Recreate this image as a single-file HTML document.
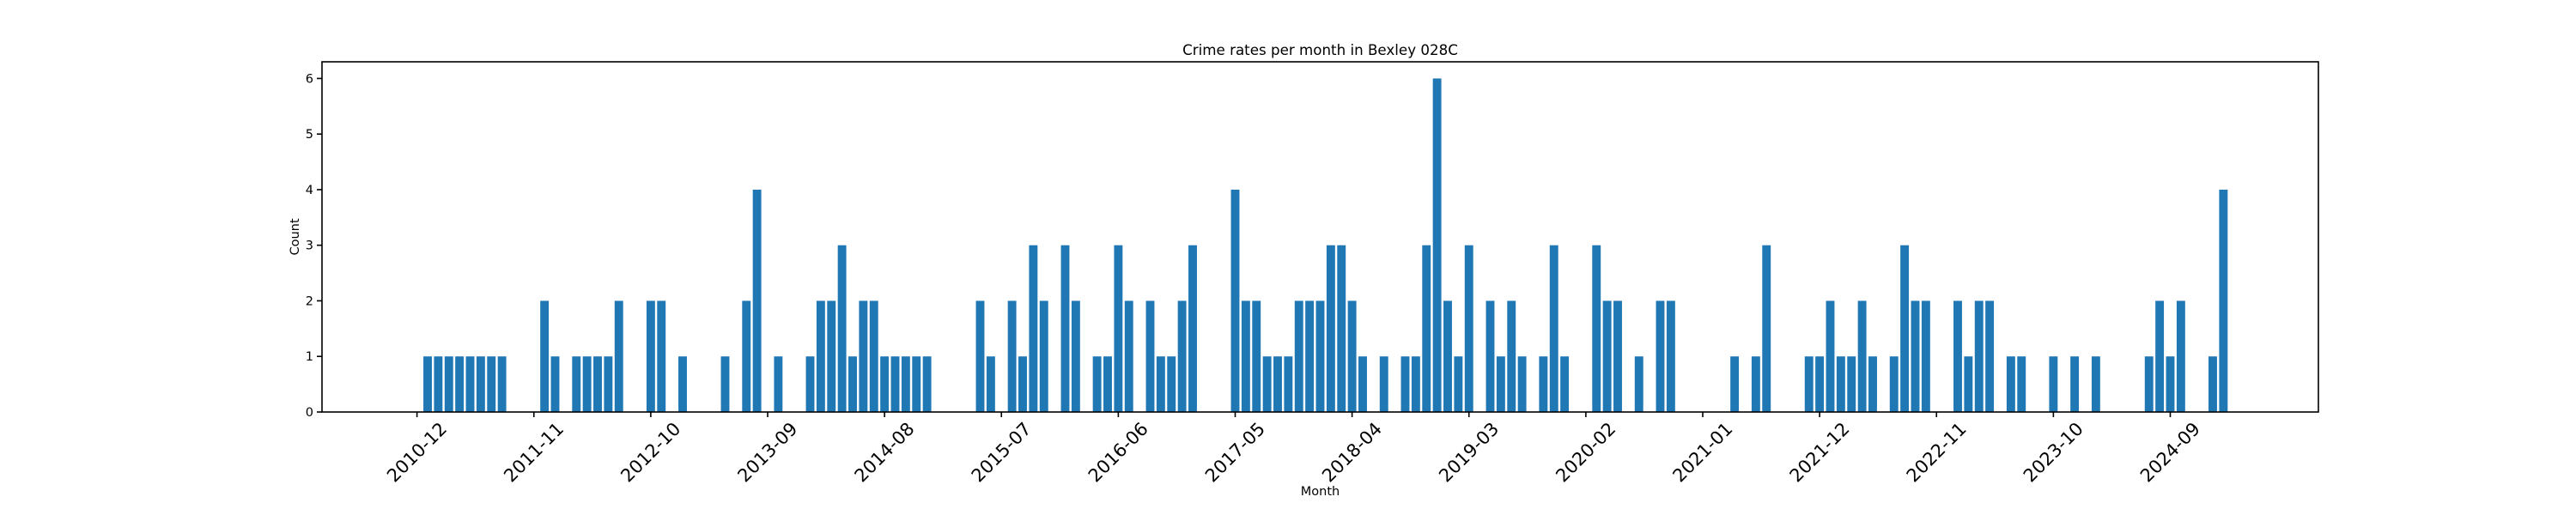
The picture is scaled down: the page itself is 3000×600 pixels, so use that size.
<!DOCTYPE html>
<html><head><meta charset="utf-8"><style>
html,body{margin:0;padding:0;background:#fff;}
svg{display:block;font-family:"DejaVu Sans","Liberation Sans",sans-serif;}
</style></head><body>
<svg id="chart" width="3000" height="600" viewBox="0 0 3000 600" xmlns="http://www.w3.org/2000/svg">
<rect x="0" y="0" width="3000" height="600" fill="#fff"/>
<text x="1537.5" y="64" font-size="16.7" text-anchor="middle" fill="#000">Crime rates per month in Bexley 028C</text>
<text x="1537.5" y="577" font-size="14.5" text-anchor="middle" fill="#000">Month</text>
<text x="0" y="0" font-size="14.5" text-anchor="middle" fill="#000" transform="translate(348,276) rotate(-90)">Count</text>
<g id="bars"></g>
<g id="axes"></g>
</svg>
<script>
const startMonth = "2010-12";
const counts = [0,1,1,1,1,1,1,1,1,0,0,0,2,1,0,1,1,1,1,2,0,0,2,2,0,1,0,0,0,1,0,2,4,0,1,0,0,
1,2,2,3,1,2,2,1,1,1,1,1,0,0,0,0,2,1,0,2,1,3,2,0,3,2,0,1,1,3,2,0,2,1,1,2,3,0,0,0,4,2,2,1,1,1,2,2,2,3,3,2,1,0,1,0,1,1,3,6,2,1,3,0,2,1,2,1,0,1,3,1,0,0,3,2,2,0,1,0,2,2,0,0,0,0,0,1,0,1,3,0,0,0,1,1,2,1,1,2,1,0,1,3,2,2,0,0,2,1,2,2,0,1,1,0,0,1,0,1,0,1,0,0,0,0,1,2,1,2,0,0,1,4];
const tickLabels = ["2010-12","2011-11","2012-10","2013-09","2014-08","2015-07","2016-06","2017-05","2018-04","2019-03","2020-02","2021-01","2021-12","2022-11","2023-10","2024-09"];
const yTicks = [0,1,2,3,4,5,6];

const months = [];
(function(){let [y,m]=startMonth.split('-').map(Number);for(let i=0;i<counts.length;i++){months.push(y+'-'+String(m).padStart(2,'0'));m++;if(m>12){m=1;y++;}}})();

const NS="http://www.w3.org/2000/svg";
const L=375,R=2700,T=72,B=480;
const n=counts.length;
const xMin=-0.4-(n-0.2)*0.05, xMax=(n-1)+0.4+(n-0.2)*0.05;
const yMax=Math.max(...counts)*1.05;
function xs(i){return L+(i-xMin)/(xMax-xMin)*(R-L);}
function ys(v){return B-v/yMax*(B-T);}
function mk(tag,attrs,parent){const e=document.createElementNS(NS,tag);for(const k in attrs)e.setAttribute(k,attrs[k]);parent.appendChild(e);return e;}

const bars=document.getElementById('bars');
const bw=(xs(1)-xs(0))*0.8;
counts.forEach((v,i)=>{
  if(v<=0)return;
  const r=mk('rect',{x:xs(i)-bw/2,y:ys(v),width:bw,height:ys(0)-ys(v),fill:'#1f77b4'},bars);
  
  
});

const axes=document.getElementById('axes');
const frame=mk('rect',{x:L,y:T,width:R-L,height:B-T,fill:'none',stroke:'#000','stroke-width':1.6},axes);



yTicks.forEach(v=>{
  const y=ys(v);
  const t=mk('line',{x1:L-6,x2:L,y1:y,y2:y,stroke:'#000','stroke-width':1.6},axes);
  
  
  const lb=mk('text',{x:L-10,y:y+5,'font-size':14.5,'text-anchor':'end',fill:'#000'},axes);
  lb.textContent=v;
  
  
});

tickLabels.forEach(lab=>{
  const i=months.indexOf(lab);
  const x=xs(i);
  const t=mk('line',{x1:x,x2:x,y1:B,y2:B+6,stroke:'#000','stroke-width':1.6},axes);
  
  
  const lb=mk('text',{x:0,y:0,'font-size':21,'text-anchor':'middle','dominant-baseline':'central',fill:'#000',transform:'translate('+(x)+',527) rotate(-45)'},axes);
  lb.textContent=lab;
  
  
});
</script>
</body></html>
